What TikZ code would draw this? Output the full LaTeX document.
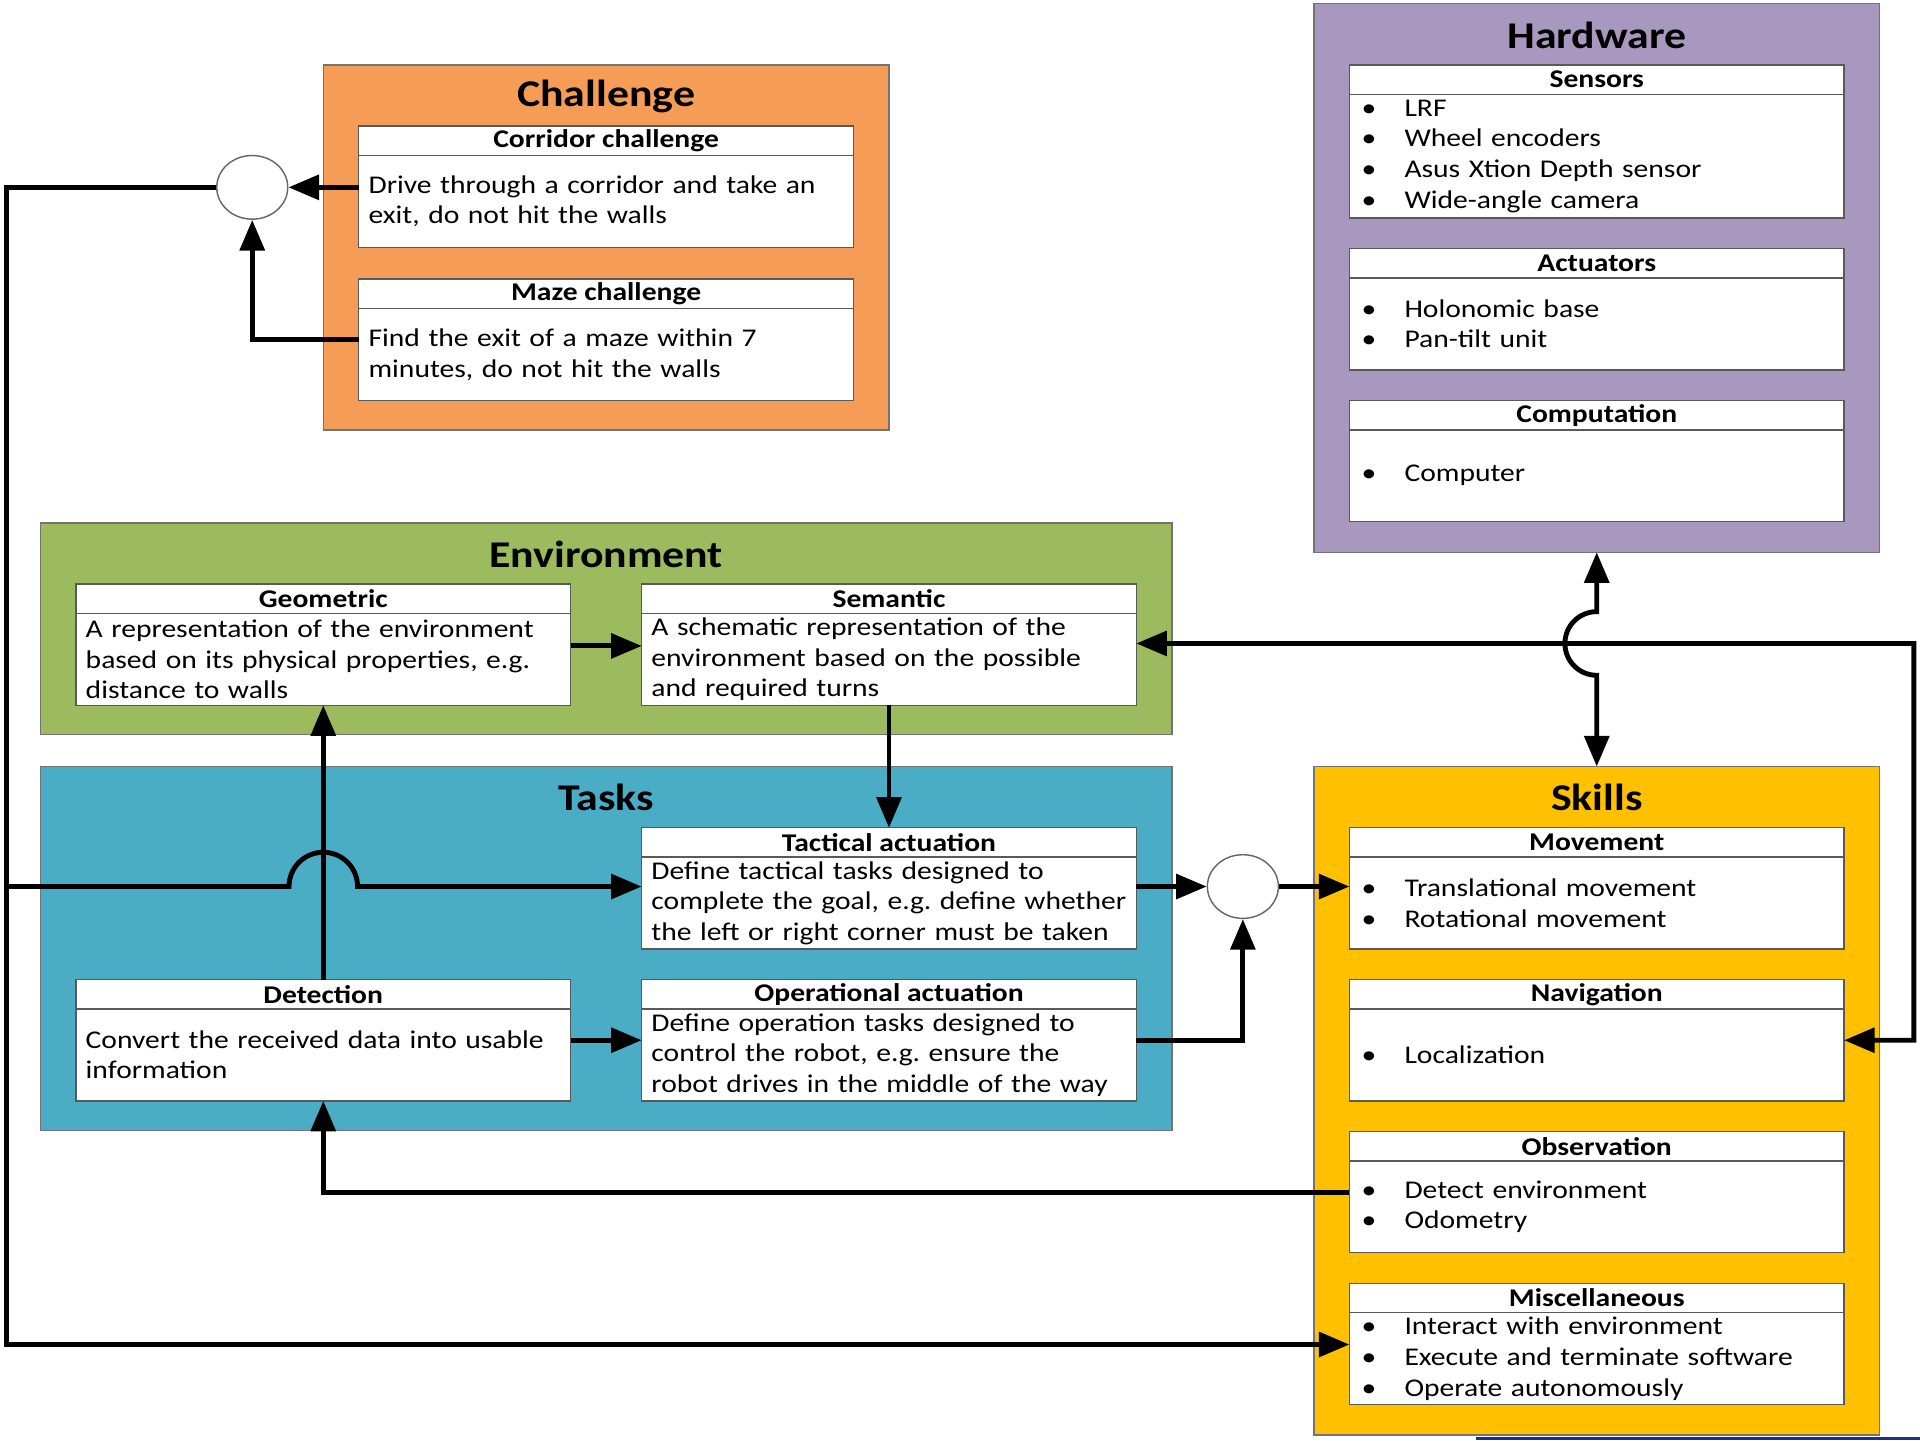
\documentclass[tikz,border=0pt]{standalone}
\usepackage{fontspec}
\setmainfont{Carlito}[FakeStretch=1.16]
\usetikzlibrary{arrows.meta,shapes.geometric,calc}
\definecolor{cOrange}{HTML}{F59D56}
\definecolor{cPurple}{HTML}{A898BF}
\definecolor{cGreen}{HTML}{9BBB5E}
\definecolor{cBlue}{HTML}{4BACC6}
\definecolor{cYellow}{HTML}{FFC000}
\definecolor{cNavy}{HTML}{1F2F86}
\newcommand{\blt}[1]{\hspace*{1.2pt}\makebox[21pt][l]{\textbullet}#1}
\newcommand{\mkbox}[5]{%
  \node[hdr] (#1_h) at (#2) {#4};
  \node[bdy,minimum height=#3] (#1_b) at (#1_h.south west) {#5};
}
\frenchspacing
\begin{document}
\frenchspacing
\begin{tikzpicture}[x=0.6pt,y=-0.6pt,
  grp/.style={draw=black!55,line width=0.7pt,anchor=north west,inner sep=0pt,outer sep=0pt},
  ttl/.style={font=\fontsize{18.5}{22}\selectfont\bfseries,inner sep=0pt},
  hdr/.style={draw=black!65,line width=0.7pt,fill=white,anchor=north west,minimum width=242.4pt,minimum height=14.4pt,inner sep=0pt,outer sep=0pt,font=\fontsize{12.5}{15}\selectfont\bfseries},
  bdy/.style={draw=black!65,line width=0.7pt,fill=white,anchor=north west,text width=232.8pt,inner xsep=4.8pt,inner ysep=0pt,outer sep=0pt,align=left,font=\fontsize{12.5}{15}\selectfont\frenchspacing},
  junc/.style={ellipse,draw=black!60,line width=0.7pt,fill=white,minimum width=34.8pt,minimum height=31.2pt,inner sep=0pt},
  arr/.style={line width=2.4pt,-{Triangle[length=15pt,width=12pt]}},
  arrr/.style={line width=2.4pt,{Triangle[length=15pt,width=12pt]}-{Triangle[length=15pt,width=12pt]}}]
\fill[white] (0,0) rectangle (1568,1176);
\useasboundingbox (0,0) rectangle (1568,1176);

% group boxes
\node[grp,fill=cOrange,minimum width=277.2pt,minimum height=178.8pt] (chal) at (264,53) {};
\node[grp,fill=cPurple,minimum width=277.2pt,minimum height=268.8pt] (hw) at (1073,3) {};
\node[grp,fill=cGreen,minimum width=554.4pt,minimum height=103.8pt] (env) at (33,427) {};
\node[grp,fill=cBlue,minimum width=554.4pt,minimum height=178.2pt] (tasks) at (33,626) {};
\node[grp,fill=cYellow,minimum width=277.2pt,minimum height=327.6pt] (skills) at (1073,626) {};

\node[ttl] (chal_t) at (495,79) {Challenge};
\node[ttl] (hw_t) at (1304,29) {Hardware};
\node[ttl] (env_t) at (495,453) {Environment};
\node[ttl] (tasks_t) at (495,651) {Tasks};
\node[ttl] (skills_t) at (1304,651) {Skills};

% inner boxes
\mkbox{corr}{293,103}{45pt}{Corridor challenge}{Drive through a corridor and take an\\exit, do not hit the walls}
\mkbox{maze}{293,228}{45pt}{Maze challenge}{Find the exit of a maze within 7\\minutes, do not hit the walls}
\mkbox{sens}{1102,53}{60.6pt}{Sensors}{\blt{LRF}\\\blt{Wheel encoders}\\\blt{Asus Xtion Depth sensor}\\\blt{Wide-angle camera}}
\mkbox{act}{1102,203}{45pt}{Actuators}{\blt{Holonomic base}\\\blt{Pan-tilt unit}}
\mkbox{comp}{1102,327}{45pt}{Computation}{\blt{Computer}}
\mkbox{geo}{62,477}{45pt}{Geometric}{A representation of the environment\\based on its physical properties, e.g.\\distance to walls}
\mkbox{sem}{524,477}{45pt}{Semantic}{A schematic representation of the\\environment based on the possible\\and required turns}
\mkbox{tac}{524,676}{45pt}{Tactical actuation}{Define tactical tasks designed to\\complete the goal, e.g. define whether\\the left or right corner must be taken}
\mkbox{det}{62,800}{45pt}{Detection}{Convert the received data into usable\\information}
\mkbox{op}{524,800}{45pt}{Operational actuation}{Define operation tasks designed to\\control the robot, e.g. ensure the\\robot drives in the middle of the way}
\mkbox{mov}{1102,676}{45pt}{Movement}{\blt{Translational movement}\\\blt{Rotational movement}}
\mkbox{nav}{1102,800}{45pt}{Navigation}{\blt{Localization}}
\mkbox{obs}{1102,924}{45pt}{Observation}{\blt{Detect environment}\\\blt{Odometry}}
\mkbox{misc}{1102,1048}{45pt}{Miscellaneous}{\blt{Interact with environment}\\\blt{Execute and terminate software}\\\blt{Operate autonomously}}

% junctions
\node[junc] (j1) at (206,153) {};
\node[junc] (j2) at (1015,724) {};

\coordinate (ltop) at (5,153);
\coordinate (lmid) at (5,724);
\coordinate (lbot) at (5,1098);

% connectors
\draw[arr] (corr_b.west |- j1.east) -- (j1.east);
\draw[arr] ($(maze_b.west)+(0,-12)$) -| (j1.south);
\draw[arr] (j1.west) -- (ltop) -- (lbot) -- (lbot -| misc_b.west);
\draw[arr] (lmid) -- (236,724) arc[start angle=180,end angle=0,radius=16.8pt] -- (lmid -| tac_b.west);
\draw[arr] ($(geo_b.east)+(0,-11)$) -- ($(sem_b.west)+(0,-11)$);
\draw[arr] (sem_b.south) -- (tac_h.north);
\draw[arr] (det_h.north) -- (geo_b.south);
\draw[arr] ($(det_b.east)+(0,-12)$) -- ($(op_b.west)+(0,-12)$);
\draw[arr] (j2.west -| tac_b.east) -- (j2.west);
\draw[arr] ($(op_b.east)+(0,-12)$) -| (j2.south);
\draw[arr] (j2.east) -- (j2.east -| mov_b.west);
\draw[arr] ($(obs_b.west)+(0,-12)$) -| (det_b.south);
\draw[arrr] (hw.south) -- (1304,499.5) arc[start angle=90,end angle=270,radius=15.6pt] -- (skills.north);
\draw[arrr] ($(sem_b.east)+(0,-13)$) -- (1563,525.5) -- (1563,849.5) -- ($(nav_b.east)+(0,-12)$);

\fill[cNavy] (1205,1173.5) rectangle (1568,1176);
\end{tikzpicture}
\end{document}
